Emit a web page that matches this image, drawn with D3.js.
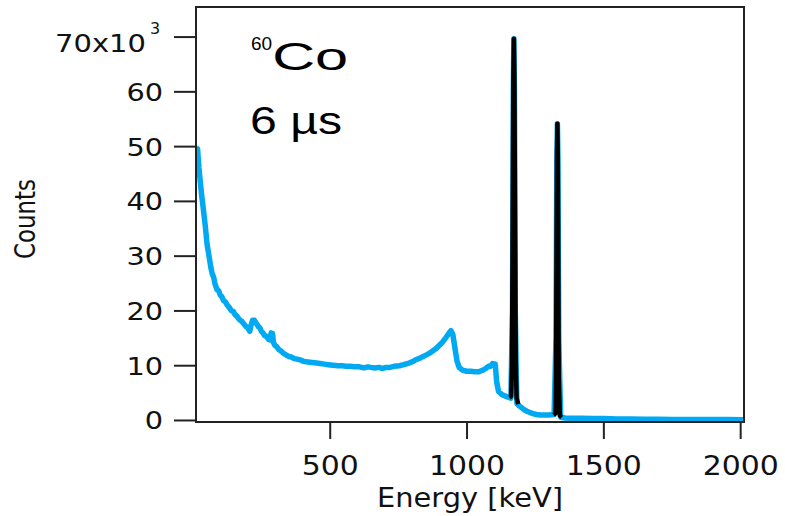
<!DOCTYPE html>
<html>
<head>
<meta charset="utf-8">
<script src="https://cdn.jsdelivr.net/npm/d3@7"></script>
<style>
  body { margin: 0; background: #fff; }
  svg { display: block; }
</style>
</head>
<body>
<svg width="785" height="516"></svg>
<script>
// spectrum: energy in keV, counts in thousands
const specEnergy = [12, 17, 22, 27, 32, 37, 45, 52, 57, 65, 70, 76, 80, 88, 94, 100, 106, 112, 118, 125,
  132, 140, 148, 154, 160, 167, 173, 179, 185, 190, 195, 199, 203, 208, 212, 218, 225, 232, 240, 245,
  250, 256, 262, 268, 272, 277, 282, 286, 288, 291, 294, 300, 306, 315, 322, 330, 340, 350, 360, 370,
  380, 391, 405, 420, 435, 452, 465, 480, 495, 512, 530, 545, 560, 575, 590, 609, 625, 640, 650, 665,
  680, 694, 705, 720, 735, 755, 770, 790, 805, 815, 830, 850, 865, 876, 890, 900, 912, 924, 935, 943,
  950, 958, 965, 973, 985, 1000, 1015, 1030, 1045, 1060, 1070, 1080, 1088, 1095, 1101, 1105, 1110, 1117, 1130, 1140,
  1150, 1162, 1168, 1171, 1173, 1175, 1178, 1184, 1192, 1200, 1210, 1220, 1230, 1240, 1255, 1270, 1285, 1300, 1320, 1327,
  1330, 1332, 1334, 1337, 1344, 1360, 1380, 1420, 1460, 1500, 1550, 1600, 1650, 1700, 1750, 1800, 1850, 1900, 1950, 2014];
const specCounts = [49.7, 49.5, 46.0, 43.5, 41.0, 39.0, 35.5, 32.0, 30.5, 28.0, 26.8, 26.0, 25.0, 23.8, 23.6, 22.8, 22.5, 21.8, 21.6, 21.0,
  20.6, 20.0, 19.8, 19.2, 19.0, 18.5, 18.2, 18.0, 17.6, 17.3, 17.0, 16.9, 16.6, 16.2, 17.2, 18.2, 18.2, 17.6, 17.0, 16.8,
  16.2, 15.9, 15.4, 15.3, 15.0, 14.7, 14.6, 15.9, 14.6, 15.8, 14.2, 13.6, 13.4, 12.8, 12.6, 12.2, 11.9, 11.6, 11.5, 11.2,
  11.1, 11.0, 10.7, 10.6, 10.5, 10.4, 10.3, 10.2, 10.1, 10.0, 9.9, 9.9, 9.8, 9.8, 9.7, 9.7, 9.5, 9.7, 9.6, 9.5,
  9.6, 9.4, 9.6, 9.6, 9.8, 9.9, 10.1, 10.4, 10.7, 11.0, 11.3, 11.8, 12.2, 12.6, 13.1, 13.6, 14.2, 15.0, 15.8, 16.3,
  15.6, 13.0, 10.8, 9.6, 9.1, 8.9, 8.9, 8.8, 8.8, 9.1, 9.4, 9.8, 9.8, 10.3, 10.2, 10.2, 7.0, 5.2, 4.6, 4.4,
  4.2, 4.0, 20.0, 60.0, 69.6, 60.0, 20.0, 3.0, 2.6, 2.3, 1.9, 1.6, 1.4, 1.2, 1.0, 0.9, 0.9, 0.9, 1.0, 15.0,
  48.0, 54.1, 48.0, 15.0, 0.5, 0.35, 0.3, 0.3, 0.25, 0.25, 0.2, 0.2, 0.15, 0.15, 0.1, 0.1, 0.1, 0.1, 0.1, 0.05];

// photopeak fits (black)
const peak1Energy = [1157, 1163, 1166, 1169, 1171, 1173, 1175, 1177, 1180, 1183, 1189];
const peak1Counts = [4.1, 4.3, 10.0, 40.0, 62.0, 69.6, 62.0, 40.0, 10.0, 4.0, 2.9];
const peak2Energy = [1318, 1325, 1327, 1329, 1330.5, 1332, 1333.5, 1335, 1337, 1341, 1348];
const peak2Counts = [0.9, 1.2, 8.0, 32.0, 48.0, 54.1, 48.0, 32.0, 8.0, 0.8, 0.5];

const yTicks = [0, 10, 20, 30, 40, 50, 60, 70];
const xTicks = [500, 1000, 1500, 2000];

(function() {
  const svg = d3.select("svg");
  const left = 196, right = 744, top = 7, bottom = 422;

  const x = d3.scaleLinear().domain([11.3, 2014]).range([left, right]);
  const y = d3.scaleLinear().domain([-0.37, 75.4]).range([bottom, top]);

  svg.append("defs").append("clipPath").attr("id", "plot")
     .append("rect")
     .attr("x", left).attr("y", top)
     .attr("width", right - left).attr("height", bottom - top);

  const line = d3.line()
                 .x(d => x(d[0]))
                 .y(d => y(d[1]));

  const plot = svg.append("g").attr("clip-path", "url(#plot)");

  plot.append("path")
      .datum(d3.zip(specEnergy, specCounts))
      .attr("d", line)
      .attr("fill", "none")
      .attr("stroke", "#00a9f2")
      .attr("stroke-width", 5.5)
      .attr("stroke-linejoin", "round");

  [[peak1Energy, peak1Counts], [peak2Energy, peak2Counts]].forEach(p => {
    plot.append("path")
        .datum(d3.zip(p[0], p[1]))
        .attr("d", line)
        .attr("fill", "none")
        .attr("stroke", "#000")
        .attr("stroke-width", 4.5)
        .attr("stroke-linejoin", "round");
  });

  // frame
  svg.append("rect")
     .attr("x", left).attr("y", top)
     .attr("width", right - left).attr("height", bottom - top)
     .attr("fill", "none")
     .attr("stroke", "#222")
     .attr("stroke-width", 2);

  // y axis
  const yAxis = svg.append("g")
     .attr("transform", `translate(${left},0)`)
     .call(d3.axisLeft(y).tickValues(yTicks).tickSize(22).tickPadding(11)
             .tickFormat(d => d === 70 ? "" : d));
  yAxis.select(".domain").remove();
  yAxis.selectAll(".tick line").attr("stroke", "#222").attr("stroke-width", 2);
  yAxis.selectAll(".tick text")
       .attr("font-family", "DejaVu Sans")
       .attr("font-size", 25)
       .attr("fill", "#111")
       .attr("dy", "0.36em")
       .filter(d => d !== 70)
       .attr("textLength", d => String(d).length * 18.3)
       .attr("lengthAdjust", "spacingAndGlyphs");

  const top70 = svg.append("text")
     .attr("x", 55)
     .attr("y", 51.5)
     .attr("font-family", "DejaVu Sans")
     .attr("font-size", 25)
     .attr("fill", "#111");
  top70.append("tspan").text("70x10").attr("textLength", 91).attr("lengthAdjust", "spacingAndGlyphs");
  top70.append("tspan").text("3").attr("font-size", 16).attr("dx", 4).attr("dy", -18);

  // x axis
  const xAxis = svg.append("g")
     .attr("transform", `translate(0,${bottom})`)
     .call(d3.axisBottom(x).tickValues(xTicks).tickSize(17).tickFormat(d => d));
  xAxis.select(".domain").remove();
  xAxis.selectAll(".tick line").attr("stroke", "#222").attr("stroke-width", 2);
  xAxis.selectAll(".tick text")
       .attr("font-family", "DejaVu Sans")
       .attr("font-size", 27)
       .attr("fill", "#111")
       .attr("y", 53)
       .attr("dy", 0)
       .attr("textLength", d => String(d).length * 19)
       .attr("lengthAdjust", "spacingAndGlyphs");

  // axis titles
  svg.append("text")
     .attr("x", 377).attr("y", 507)
     .attr("font-family", "DejaVu Sans")
     .attr("font-size", 26)
     .attr("fill", "#111")
     .attr("textLength", 186)
     .attr("lengthAdjust", "spacingAndGlyphs")
     .text("Energy [keV]");

  svg.append("text")
     .attr("transform", "translate(35,219) rotate(-90)")
     .attr("text-anchor", "middle")
     .attr("font-family", "DejaVu Sans")
     .attr("font-size", 28)
     .attr("fill", "#111")
     .attr("textLength", 80)
     .attr("lengthAdjust", "spacingAndGlyphs")
     .text("Counts");

  // annotation
  const iso = svg.append("text")
     .attr("x", 251).attr("y", 69.5)
     .attr("font-family", "Liberation Sans")
     .attr("fill", "#000");
  iso.append("tspan").text("60").attr("font-size", 19).attr("dy", -20);
  iso.append("tspan").text("Co").attr("font-size", 38).attr("dy", 20)
     .attr("textLength", 76).attr("lengthAdjust", "spacingAndGlyphs");

  svg.append("text")
     .attr("x", 250).attr("y", 133.5)
     .attr("font-family", "Liberation Sans")
     .attr("font-size", 38)
     .attr("fill", "#000")
     .attr("textLength", 92)
     .attr("lengthAdjust", "spacingAndGlyphs")
     .text("6 µs");
})();
</script>
</body>
</html>
